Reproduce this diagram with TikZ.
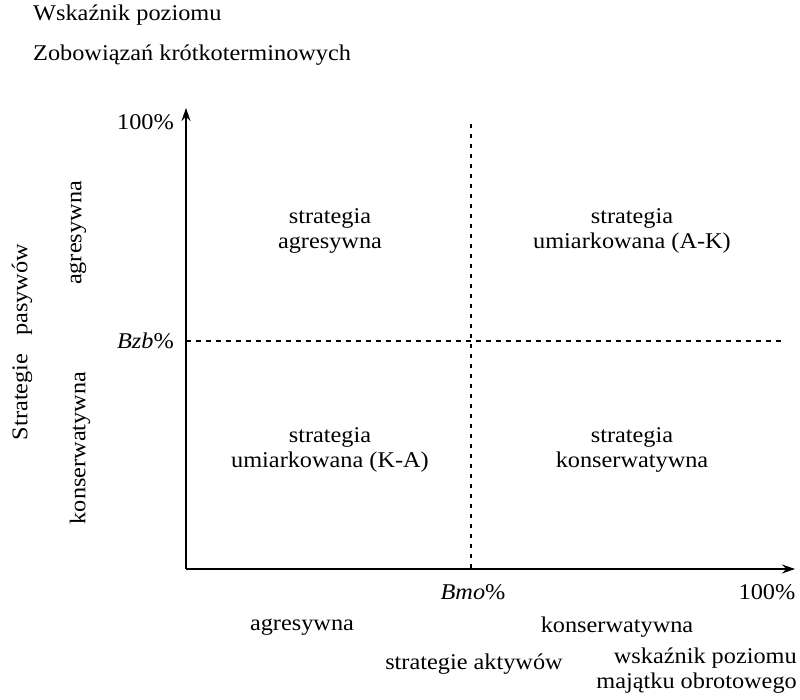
\documentclass[tikz,border=0pt]{standalone}
\usepackage{fontspec}
\setmainfont[FakeStretch=1.08]{Liberation Serif}
\usetikzlibrary{arrows.meta}
\begin{document}
\begin{tikzpicture}[x=1pt,y=1pt,
  every node/.style={font=\fontsize{22.5}{25}\selectfont, inner sep=0pt},
  axis/.style={line width=1.2pt, -{Stealth[length=13pt,width=9pt]}},
  guide/.style={line width=1.2pt, dash pattern=on 4.5pt off 5.5pt},
  quad/.style={align=center}]
\useasboundingbox (0,0) rectangle (800,700);
% axes
\coordinate (O) at (186,131);
\coordinate (ytip) at (186,592);
\coordinate (xtip) at (795,131);
\draw[axis] (O) -- (ytip);
\draw[axis] (O) -- (xtip);
% guides
\coordinate (hs) at (186,359);
\coordinate (he) at (786,359);
\coordinate (vs) at (471,576);
\coordinate (ve) at (471,131);
\draw[guide] (hs) -- (he);
\draw[guide] (vs) -- (ve);
% axis labels
\node[anchor=east] (y100) at (174,578) {100\%};
\node[anchor=east] (bzb) at (174,359) {\textit{Bzb}\%};
\node (bmo) at (473,108) {\textit{Bmo}\%};
\node (x100) at (767,108) {100\%};
\node (xag) at (302,73) {agresywna};
\node (xkon) at (617,73) {konserwatywna};
\node (xstrat) at (474,36) {strategie aktywów};
\node[align=right, anchor=east] (xwsk) at (797,29) {wskaźnik poziomu\\majątku obrotowego};
\node[anchor=west] (t1) at (33,685) {Wskaźnik poziomu};
\node[anchor=west] (t2) at (33,645) {Zobowiązań krótkoterminowych};
% rotated labels
\node[rotate=90] (ystrat) at (22,358) {Strategie\hspace{0.8em}pasywów};
\node[rotate=90] (yag) at (78,467) {agresywna};
\node[rotate=90] (ykon) at (80,252) {konserwatywna};
% quadrants
\node[quad] (q1) at (330,469) {strategia\\agresywna};
\node[quad] (q2) at (632,469) {strategia\\umiarkowana (A-K)};
\node[quad] (q3) at (330,250) {strategia\\umiarkowana (K-A)};
\node[quad] (q4) at (632,250) {strategia\\konserwatywna};
\end{tikzpicture}
\end{document}
